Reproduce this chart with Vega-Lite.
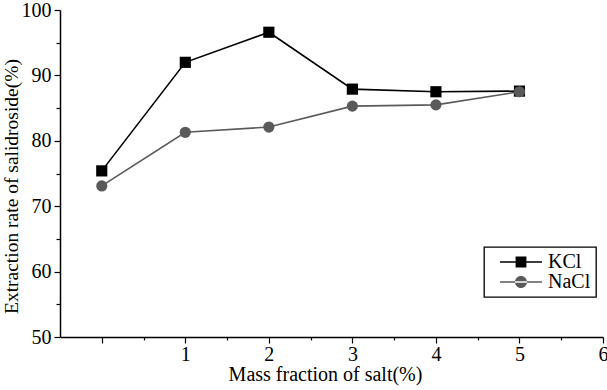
{
  "$schema": "https://vega.github.io/schema/vega-lite/v6.json",
  "width": 543,
  "height": 327,
  "autosize": {"type": "none"},
  "padding": {"left": 60, "top": 10, "right": 4, "bottom": 53},
  "background": "white",
  "config": {
    "view": {"stroke": null},
    "font": "Liberation Serif",
    "axis": {"grid": false, "domainColor": "black", "tickColor": "black", "labelColor": "black", "titleColor": "black", "labelFont": "Liberation Serif", "titleFont": "Liberation Serif", "titleFontWeight": "normal", "domainWidth": 1.5, "tickWidth": 1.2}
  },
  "data": {
    "values": [
      {"x": 0, "y": 75.4, "salt": "KCl"},
      {"x": 1, "y": 92.0, "salt": "KCl"},
      {"x": 2, "y": 96.6, "salt": "KCl"},
      {"x": 3, "y": 87.9, "salt": "KCl"},
      {"x": 4, "y": 87.5, "salt": "KCl"},
      {"x": 5, "y": 87.6, "salt": "KCl"},
      {"x": 0, "y": 73.1, "salt": "NaCl"},
      {"x": 1, "y": 81.3, "salt": "NaCl"},
      {"x": 2, "y": 82.1, "salt": "NaCl"},
      {"x": 3, "y": 85.3, "salt": "NaCl"},
      {"x": 4, "y": 85.5, "salt": "NaCl"},
      {"x": 5, "y": 87.5, "salt": "NaCl"}
    ]
  },
  "encoding": {
    "x": {
      "field": "x", "type": "quantitative",
      "scale": {"domain": [-0.5, 6], "nice": false, "zero": false},
      "axis": {
        "title": "Mass fraction of salt(%)",
        "titleFont": "Liberation Serif", "labelFont": "Liberation Serif",
        "titleFontSize": 20, "titlePadding": 0, "titleX": 265,
        "labelFontSize": 20, "labelPadding": 1,
        "values": [0, 0.5, 1, 1.5, 2, 2.5, 3, 3.5, 4, 4.5, 5, 5.5, 6],
        "labelExpr": "datum.value >= 1 && datum.value % 1 === 0 ? format(datum.value, 'd') : ''",
        "tickSize": {"condition": {"test": "datum.value % 1 === 0", "value": 6}, "value": 3},
        "labelFlush": false, "labelOverlap": false
      }
    },
    "y": {
      "field": "y", "type": "quantitative",
      "scale": {"domain": [50, 100], "nice": false, "zero": false},
      "axis": {
        "title": "Extraction rate of salidroside(%)",
        "titleFont": "Liberation Serif", "labelFont": "Liberation Serif",
        "titleFontSize": 19.5, "titlePadding": 0, "titleY": 176,
        "labelFontSize": 20, "labelPadding": 3,
        "values": [50, 55, 60, 65, 70, 75, 80, 85, 90, 95, 100],
        "labelExpr": "datum.value % 10 === 0 ? datum.label : ''",
        "tickSize": {"condition": {"test": "datum.value % 10 === 0", "value": 6}, "value": 4},
        "labelFlush": false, "labelOverlap": false
      }
    },
    "color": {
      "field": "salt", "type": "nominal",
      "scale": {"domain": ["KCl", "NaCl"], "range": ["#000000", "#5a5a5a"]},
      "legend": {
        "title": null,
        "orient": "none", "legendX": 424, "legendY": 237,
        "strokeColor": "black",
        "padding": 5,
        "labelFontSize": 20, "labelFont": "Liberation Serif", "labelColor": "black",
        "labelExpr": "datum.label + '\u00a0\u00a0'",
        "symbolSize": 324, "symbolOpacity": 1, "symbolOffset": 22,
        "rowPadding": 0, "labelOffset": 17,
        "encode": {
          "legend": {"update": {"strokeWidth": {"value": 1.3}}},
          "symbols": {
            "update": {
              "shape": [
                {"test": "datum.value === 'KCl'", "value": "M-2.33,-0.09 L2.33,-0.09 L2.33,0.09 L-2.33,0.09 Z M-0.6,-0.6 L0.6,-0.6 L0.6,0.6 L-0.6,0.6 Z"},
                {"value": "M-2.33,-0.09 L2.33,-0.09 L2.33,0.09 L-2.33,0.09 Z M-0.67,0 A0.67,0.67 0 1,0 0.67,0 A0.67,0.67 0 1,0 -0.67,0 Z"}
              ],
              "fill": [
                {"test": "datum.value === 'KCl'", "value": "#000000"},
                {"value": "#5a5a5a"}
              ],
              "strokeWidth": {"value": 0}
            }
          }
        }
      }
    }
  },
  "layer": [
    {"mark": {"type": "line", "strokeWidth": 1.6}},
    {
      "mark": {"type": "point", "filled": true, "opacity": 1},
      "encoding": {
        "shape": {"condition": {"test": "datum.salt === 'KCl'", "value": "square"}, "value": "circle"},
        "size": {"value": 125}
      }
    }
  ]
}
